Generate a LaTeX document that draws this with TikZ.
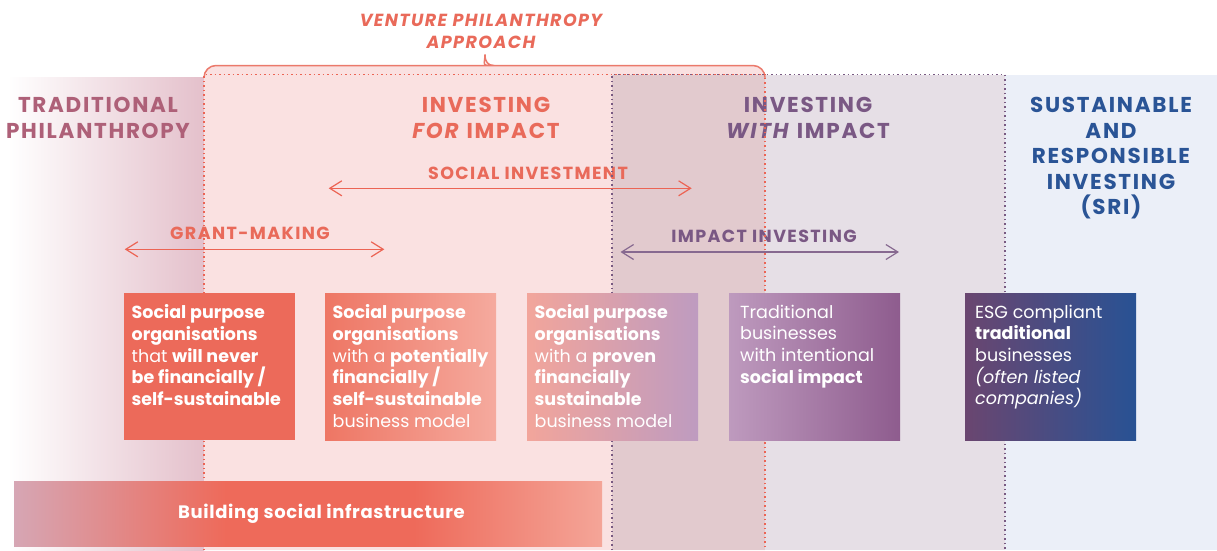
\documentclass[tikz,border=0pt]{standalone}
\usepackage{fontspec}
\setmainfont{Poppins}
\newfontfamily\capsfont[LetterSpace=8]{Poppins}
\newfontfamily\barfont[LetterSpace=3.5]{Poppins}
\usetikzlibrary{arrows.meta}

\definecolor{vpred}{RGB}{233,106,90}
\definecolor{tpmauve}{RGB}{174,96,120}
\definecolor{wipurple}{RGB}{122,88,132}
\definecolor{sriblue}{RGB}{42,84,150}
\definecolor{fibg}{RGB}{250,225,225}
\definecolor{ovbg}{RGB}{226,202,206}
\definecolor{wibg}{RGB}{230,223,230}
\definecolor{sribg}{RGB}{235,239,248}
\definecolor{tpbg}{RGB}{228,192,203}
\definecolor{dotred}{RGB}{236,100,84}
\definecolor{dotpurple}{RGB}{120,90,130}
\definecolor{barleft}{RGB}{214,166,180}
\definecolor{barmid}{RGB}{238,106,90}
\definecolor{barright}{RGB}{244,165,152}
\pgfdeclarehorizontalshading{barshade}{100bp}{color(0bp)=(barleft); color(25bp)=(barleft);
    color(43bp)=(barmid); color(59bp)=(barmid); color(75bp)=(barright); color(100bp)=(barright)}

\begin{document}
\begin{tikzpicture}[x=1pt, y=-1pt,
    head/.style={font=\capsfont\fontsize{21.5}{25.5}\selectfont\bfseries, align=center,
                 anchor=north, inner sep=0pt},
    lbl/.style={font=\capsfont\fontsize{17.5}{21}\selectfont\bfseries, anchor=base, inner sep=0pt},
    box/.style={anchor=north west, minimum width=171pt, minimum height=147pt,
                inner sep=0pt, draw=none},
    boxtxt/.style={anchor=north west, align=left, text=white, inner sep=0pt,
                   font=\fontsize{17.5}{21.7}\selectfont},
    span/.style={line width=1.2pt,
                 {Straight Barb[length=12pt,width=15pt]}-{Straight Barb[length=12pt,width=15pt]}},
    dots/.style={line width=1.5pt, dash pattern=on 1.5pt off 3pt}]
    \useasboundingbox (0,0) rectangle (1217,550);

    % backgrounds
    \fill[left color=white, right color=tpbg] (8,77) rectangle (204,550);
    \fill[fibg, rounded corners=12pt] (204,550) -- (204,65.5) -- (765,65.5) -- (765,550);
    \fill[ovbg] (612,74.5) rectangle (765,550);
    \fill[wibg] (765,74.5) rectangle (1005,550);
    \fill[sribg] (1005,74.5) rectangle (1217,550);

    % brace
    \draw[vpred!90, line width=1.5pt] (204,77) [rounded corners=12pt] -- (204,65.5) -- (476,65.5)
        [sharp corners] .. controls (482,65.5) and (485,62) .. (485,54.5)
        .. controls (485,62) and (488,65.5) .. (494,65.5)
        [rounded corners=12pt] -- (765,65.5) -- (765,77);

    \node[font=\capsfont\fontsize{17.5}{22}\selectfont\bfseries\itshape, text=vpred, align=center,
          anchor=north, inner sep=0pt] (vp) at (481,14) {VENTURE PHILANTHROPY\\APPROACH};

    % column heads
    \node[head, text=tpmauve] (tp) at (98,97) {TRADITIONAL\\PHILANTHROPY};
    \node[head, text=vpred] (fi) at (486,97) {INVESTING\\\textit{FOR} IMPACT};
    \node[head, text=wipurple] (wi) at (808,97) {INVESTING\\\textit{WITH} IMPACT};
    \node[head, text=sriblue] (sri) at (1111,97) {SUSTAINABLE\\AND\\RESPONSIBLE\\INVESTING\\(SRI)};

    % spans
    \coordinate (si-l) at (328.7,188.3);
    \coordinate (si-r) at (691.7,188.3);
    \coordinate (gm-l) at (124.7,249.3);
    \coordinate (gm-r) at (384.3,249.3);
    \coordinate (ii-l) at (620.5,252);
    \coordinate (ii-r) at (899,252);
    \draw[span, dotred] (si-l) -- (si-r);
    \draw[span, dotred] (gm-l) -- (gm-r);
    \draw[span, wipurple!90] (ii-l) -- (ii-r);
    \node[lbl, text=vpred] (si) at (528,179) {SOCIAL INVESTMENT};
    \node[lbl, text=vpred] (gm) at (250,239.3) {GRANT-MAKING};
    \node[lbl, text=wipurple] (ii) at (764,242.5) {IMPACT INVESTING};

    % dotted frames
    \draw[dots, dotpurple] (612,550) -- (612,74.5) -- (1005,74.5) -- (1005,550);
    \draw[dots, dotred] (204,550) -- (204,74.5) -- (765,74.5) -- (765,550);

    % boxes
    \node[box, fill={rgb,255:red,236;green,106;blue,90}] (b1) at (124,293) {};
    \node[box, left color={rgb,255:red,238;green,118;blue,100},
               right color={rgb,255:red,245;green,170;blue,158}] (b2) at (325,293) {};
    \node[box, left color={rgb,255:red,242;green,165;blue,155},
               right color={rgb,255:red,190;green,155;blue,192}] (b3) at (527,293) {};
    \node[box, left color={rgb,255:red,190;green,154;blue,190},
               right color={rgb,255:red,142;green,92;blue,142}] (b4) at (729,293) {};
    \node[box, left color={rgb,255:red,106;green,70;blue,112},
               right color={rgb,255:red,40;green,82;blue,148}] (b5) at (965,293) {};

    \node[boxtxt] (t1) at ([xshift=7.5pt, yshift=-11.5pt]b1.north west)
        {\textbf{Social purpose}\\\textbf{organisations}\\that \textbf{will never}\\
         \textbf{be financially /}\\\textbf{self-sustainable}};
    \node[boxtxt] (t2) at ([xshift=7.5pt, yshift=-11.5pt]b2.north west)
        {\textbf{Social purpose}\\\textbf{organisations}\\with a \textbf{potentially}\\
         \textbf{financially /}\\\textbf{self-sustainable}\\business model};
    \node[boxtxt] (t3) at ([xshift=7.5pt, yshift=-11.5pt]b3.north west)
        {\textbf{Social purpose}\\\textbf{organisations}\\with a \textbf{proven}\\
         \textbf{financially}\\\textbf{sustainable}\\business model};
    \node[boxtxt] (t4) at ([xshift=11pt, yshift=-11.5pt]b4.north west)
        {Traditional\\businesses\\with intentional\\\textbf{social impact}};
    \node[boxtxt] (t5) at ([xshift=10pt, yshift=-11.5pt]b5.north west)
        {ESG compliant\\\textbf{traditional}\\businesses\\\textit{(often listed}\\\textit{companies)}};

    % bottom bar
    \node[anchor=north west, minimum width=588pt, minimum height=65pt, inner sep=0pt,
          shading=barshade] (bar) at (14,481) {};
    \node[font=\barfont\fontsize{18}{21}\selectfont\bfseries, text=white, inner sep=0pt,
          anchor=base] (bart) at (321.5,518.5) {Building social infrastructure};
\end{tikzpicture}
\end{document}
